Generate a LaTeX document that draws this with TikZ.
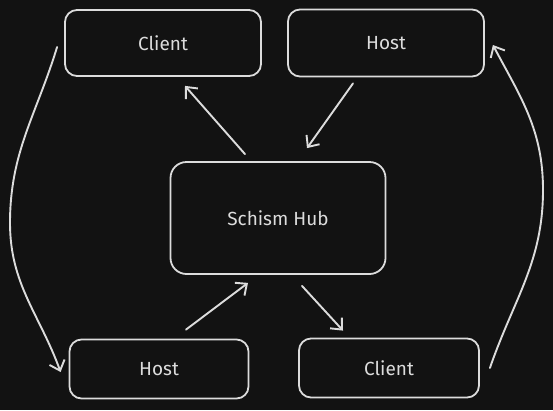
\documentclass[tikz,border=0pt]{standalone}
\usepackage{fontspec}
\setmainfont{Fira Sans}
\usepackage{tikz}
\usetikzlibrary{arrows.meta,calc}

\definecolor{bg}{HTML}{121212}
\definecolor{ink}{HTML}{DCDCDC}

\begin{document}
\begin{tikzpicture}[x=1pt, y=-1pt,
  box/.style = {draw=ink, line width=1.8pt, rounded corners=12pt, text=ink,
                font=\fontsize{19}{22}\selectfont, inner sep=0pt},
  link/.style = {draw=ink, line width=1.9pt, line cap=round,
                 -{Straight Barb[length=9pt,width=16pt,line width=1.9pt]}}]
\useasboundingbox (0,0) rectangle (553,410);
\fill[bg] (0,0) rectangle (553,410);

% top row
\node[box, minimum width=196pt, minimum height=66pt] (clienttop) at (163,43) {Client};
\node[box, minimum width=196pt, minimum height=67pt] (hosttop) at (386,43) {Host};

% hub
\node[box, minimum width=215pt, minimum height=112pt, rounded corners=16pt] (hub) at (278,218) {Schism Hub};

% bottom row
\node[box, minimum width=179pt, minimum height=59pt] (hostbot) at (159,369) {Host};
\node[box, minimum width=180pt, minimum height=59pt] (clientbot) at (389,368) {Client};

% straight links
\draw[link] ([xshift=-33pt,yshift=7pt]hub.north) -- ([xshift=22pt,yshift=-9pt]clienttop.south);
\draw[link] ([xshift=-33pt,yshift=-6pt]hosttop.south) -- ([xshift=29pt,yshift=13pt]hub.north);
\draw[link] ([xshift=27pt,yshift=9pt]hostbot.north) -- ([xshift=-30pt,yshift=-8pt]hub.south);
\draw[link] ([xshift=24pt,yshift=-11pt]hub.south) -- ([xshift=-46pt,yshift=7pt]clientbot.north);

% curved links round the sides
\coordinate (leftbend) at (10,223);
\coordinate (rightbend) at (543,190);
\draw[link] ([xshift=-7pt,yshift=-4pt]clienttop.west) to[out=253, in=90] (leftbend)
  to[out=270, in=110] ([xshift=-8pt,yshift=-3pt]hostbot.west);
\draw[link] ([xshift=10pt]clientbot.east) to[out=71, in=-90] (rightbend)
  to[out=90, in=-62] ([xshift=8pt,yshift=-2pt]hosttop.east);
\end{tikzpicture}
\end{document}
